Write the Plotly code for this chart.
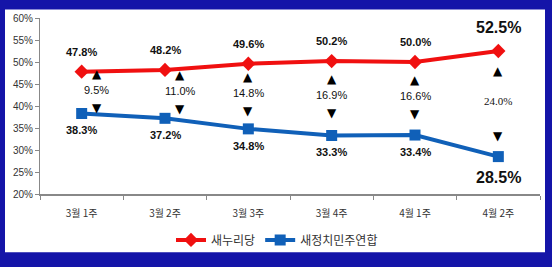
import plotly.graph_objects as go

weeks = ["3월 1주", "3월 2주", "3월 3주", "3월 4주", "4월 1주", "4월 2주"]
saenuri = [47.8, 48.2, 49.6, 50.2, 50.0, 52.5]
npad = [38.3, 37.2, 34.8, 33.3, 33.4, 28.5]
gaps = [9.5, 11.0, 14.8, 16.9, 16.6, 24.0]
y_ticks = [20, 25, 30, 35, 40, 45, 50, 55, 60]

RED = "#F01010"
BLUE = "#1060B8"
FRAME = "#1414A8"
KFONT = "Noto Sans CJK KR"
LFONT = "Liberation Sans"

fig = go.Figure()
fig.add_trace(go.Scatter(
    x=weeks, y=saenuri, name="새누리당", mode="lines+markers",
    line=dict(color=RED, width=4),
    marker=dict(symbol="diamond", size=11, color=RED),
))
fig.add_trace(go.Scatter(
    x=weeks, y=npad, name="새정치민주연합", mode="lines+markers",
    line=dict(color=BLUE, width=4),
    marker=dict(symbol="square", size=11, color=BLUE),
))

ann = []
n = len(weeks)
for i in range(n):
    last = (i == n - 1)
    ann.append(dict(x=weeks[i], y=saenuri[i], text=f"{saenuri[i]:.1f}%",
                    showarrow=False, yshift=24 if last else 20,
                    font=dict(family=LFONT, size=16 if last else 11, color="#111111", weight="bold")))
    ann.append(dict(x=weeks[i], y=npad[i], text=f"{npad[i]:.1f}%",
                    showarrow=False, yshift=-21 if last else -17,
                    font=dict(family=LFONT, size=16 if last else 11, color="#111111", weight="bold")))
    mid = (saenuri[i] + npad[i]) / 2
    xs = 15 if i < 2 else 0
    gfam = "Liberation Serif" if last else LFONT
    base = 3
    ann.append(dict(x=weeks[i], y=mid, text=f"{gaps[i]:.1f}%", showarrow=False,
                    yshift=base, xshift=xs,
                    font=dict(family=gfam, size=11, color="#111111")))
    up = 30 if last else 16
    dn = 35 if last else 18
    ann.append(dict(x=weeks[i], y=mid, text="▲", showarrow=False,
                    yshift=base + up, xshift=xs,
                    font=dict(family="DejaVu Sans", size=12, color="#000000")))
    ann.append(dict(x=weeks[i], y=mid, text="▼", showarrow=False,
                    yshift=base - dn, xshift=xs,
                    font=dict(family="DejaVu Sans", size=12, color="#000000")))

L, R, T, B = 40, 12, 15, 68
W, H = 552, 267
pw, ph = W - L - R, H - T - B

def px_x(p):
    return (p - L) / pw

def px_y(p):
    return (H - B - p) / ph

shapes = [dict(type="rect", xref="paper", yref="paper",
               x0=px_x(5), x1=px_x(545), y0=px_y(260), y1=px_y(6),
               fillcolor="white", line=dict(width=0), layer="below")]

fig.update_layout(
    width=W, height=H,
    margin=dict(l=L, r=R, t=T, b=B),
    paper_bgcolor=FRAME,
    plot_bgcolor="white",
    shapes=shapes,
    annotations=ann,
    showlegend=True,
    legend=dict(orientation="h", x=px_x(277), y=px_y(247), xanchor="center", yanchor="middle",
                font=dict(family=KFONT, size=12, color="#333333"),
                bgcolor="rgba(0,0,0,0)", itemwidth=30, tracegroupgap=0),
    xaxis=dict(type="category", range=[-0.5, n - 0.5], showgrid=False,
               showline=True, linecolor="#888888", linewidth=2,
               ticks="outside", tickson="boundaries", ticklen=4, tickcolor="#888888",
               ticklabelstandoff=9,
               tickfont=dict(family=KFONT, size=10, color="#333333")),
    yaxis=dict(range=[20, 60], tickvals=y_ticks, ticktext=[f"{v}%" for v in y_ticks],
               showgrid=False, zeroline=False,
               showline=True, linecolor="#888888", linewidth=1,
               ticks="outside", ticklen=4, tickcolor="#888888",
               tickfont=dict(family=LFONT, size=10, color="#333333")),
)

fig.write_html("out.html")
